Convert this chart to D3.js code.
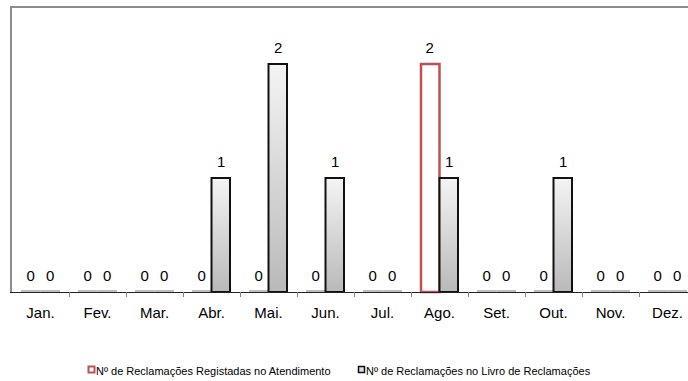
<!DOCTYPE html>
<head>
    <meta charset="utf-8">
    <script src="https://d3js.org/d3.v7.min.js"></script>
    <style>
        body { margin: 0; background: #fff; }
        .canvas text { font-family: "Liberation Sans", Arial, sans-serif; fill: #000; }
        .canvas text.valor { font-size: 15px; text-anchor: middle; }
        .canvas text.mes { font-size: 15px; text-anchor: middle; }
        .canvas text.legenda { font-size: 11px; }
    </style>
</head>
<body>
<div id="canvas"></div>
<script>
    // dados --------------------------------------------------------------
    var meses = ["Jan.", "Fev.", "Mar.", "Abr.", "Mai.", "Jun.", "Jul.", "Ago.", "Set.", "Out.", "Nov.", "Dez."];
    var atendimento = [0, 0, 0, 0, 0, 0, 0, 2, 0, 0, 0, 0];
    var livro = [0, 0, 0, 1, 2, 1, 0, 1, 0, 1, 0, 0];
    var series = ["Nº de Reclamações Registadas no Atendimento", "Nº de Reclamações no Livro de Reclamações"];

    criar("canvas");

    function criar(id) {
        var width = 688, height = 381;
        var esq = 12, topo = 7, base = 292;
        var bandW = 57;

        var svg = d3.select('#' + id)
            .append('svg')
            .attr('class', 'canvas')
            .attr('width', width)
            .attr('height', height);

        // gradiente das barras do livro
        var grad = svg.append('defs').append('linearGradient')
            .attr('id', 'cinza')
            .attr('x1', 0).attr('y1', 0).attr('x2', 0).attr('y2', 1);
        grad.append('stop').attr('offset', '0%').attr('stop-color', '#f4f4f4');
        grad.append('stop').attr('offset', '100%').attr('stop-color', '#b9b9b9');

        var x = d3.scaleBand()
            .domain(meses)
            .range([esq, esq + bandW * meses.length]);

        var x1 = d3.scaleBand()
            .domain([0, 1])
            .range([9, x.bandwidth() - 9]);

        var y = d3.scaleLinear()
            .domain([0, 2.5])
            .range([base, topo]);

        // moldura da area do grafico
        svg.append('path')
            .attr('d', 'M' + (esq - 1) + ',' + base + 'V' + topo + 'H' + width)
            .attr('fill', 'none')
            .attr('stroke', '#8c8c8c')
            .attr('stroke-width', 2);

        var dados = meses.map(function(m, i) {
            return {mes: m, vals: [atendimento[i], livro[i]]};
        });

        var grupos = svg.selectAll('g.mes')
            .data(dados)
            .enter()
            .append('g')
            .attr('class', 'mes')
            .attr('transform', function(d) { return 'translate(' + x(d.mes) + ',0)'; });

        function pares(d) {
            return d.vals.map(function(v, s) { return {v: v, s: s}; });
        }

        // barras com valor zero (linha cinzenta)
        grupos.selectAll('line.zero')
            .data(function(d) { return pares(d).filter(function(p) { return p.v === 0; }); })
            .enter()
            .append('line')
            .attr('class', 'zero')
            .attr('x1', function(d) { return x1(d.s); })
            .attr('x2', function(d) { return x1(d.s) + x1.bandwidth(); })
            .attr('y1', y(0) - 1)
            .attr('y2', y(0) - 1)
            .attr('stroke', '#bdbdbd')
            .attr('stroke-width', 2);

        // barras ----------------------------------------------------------------
        grupos.selectAll('rect')
            .data(function(d) { return pares(d).filter(function(p) { return p.v > 0; }); })
            .enter()
            .append('rect')
            .attr('x', function(d) { return x1(d.s) + (d.s === 0 ? 1 : 0); })
            .attr('width', x1.bandwidth() - 1)
            .attr('y', function(d) { return y(d.v); })
            .attr('height', function(d) { return y(0) - y(d.v); })
            .attr('fill', function(d) { return d.s === 0 ? '#ffffff' : 'url(#cinza)'; })
            .attr('stroke', function(d) { return d.s === 0 ? '#c0504d' : '#111'; })
            .attr('stroke-width', function(d) { return d.s === 0 ? 2.5 : 2; });

        // eixo x ----------------------------------------------------------------
        svg.append('line')
            .attr('x1', esq - 2).attr('x2', width)
            .attr('y1', base + 0.5).attr('y2', base + 0.5)
            .attr('stroke', '#222');

        svg.selectAll('line.tick')
            .data(meses)
            .enter()
            .append('line')
            .attr('class', 'tick')
            .attr('x1', function(d) { return x(d) + x.bandwidth() + 0.5; })
            .attr('x2', function(d) { return x(d) + x.bandwidth() + 0.5; })
            .attr('y1', base)
            .attr('y2', base + 5)
            .attr('stroke', '#888');

        svg.selectAll('text.mes')
            .data(meses)
            .enter()
            .append('text')
            .attr('class', 'mes')
            .attr('x', function(d) { return x(d) + x.bandwidth() / 2; })
            .attr('y', 318)
            .text(function(d) { return d; });

        // rotulos de valor ---------------------------------------------------
        grupos.selectAll('text.valor')
            .data(pares)
            .enter()
            .append('text')
            .attr('class', 'valor')
            .attr('x', function(d) { return x1(d.s) + x1.bandwidth() / 2; })
            .attr('y', function(d) { return y(d.v) - 11; })
            .text(function(d) { return d.v; });

        // legenda ----------------------------------------------------------------
        var legX = [88, 358];
        var leg = svg.selectAll('g.leg')
            .data(series)
            .enter()
            .append('g')
            .attr('class', 'leg')
            .attr('transform', function(d, i) { return 'translate(' + legX[i] + ',371)'; });

        leg.append('rect')
            .attr('x', 0.5).attr('y', -4.5)
            .attr('width', 6).attr('height', 6)
            .attr('fill', function(d, i) { return i === 0 ? '#ffffff' : '#dddddd'; })
            .attr('stroke', function(d, i) { return i === 0 ? '#c0504d' : '#111'; })
            .attr('stroke-width', function(d, i) { return i === 0 ? 2 : 1.5; });

        leg.append('text')
            .attr('class', 'legenda')
            .attr('x', 8)
            .attr('y', 4)
            .text(function(d) { return d; });
    }
</script>
</body>
